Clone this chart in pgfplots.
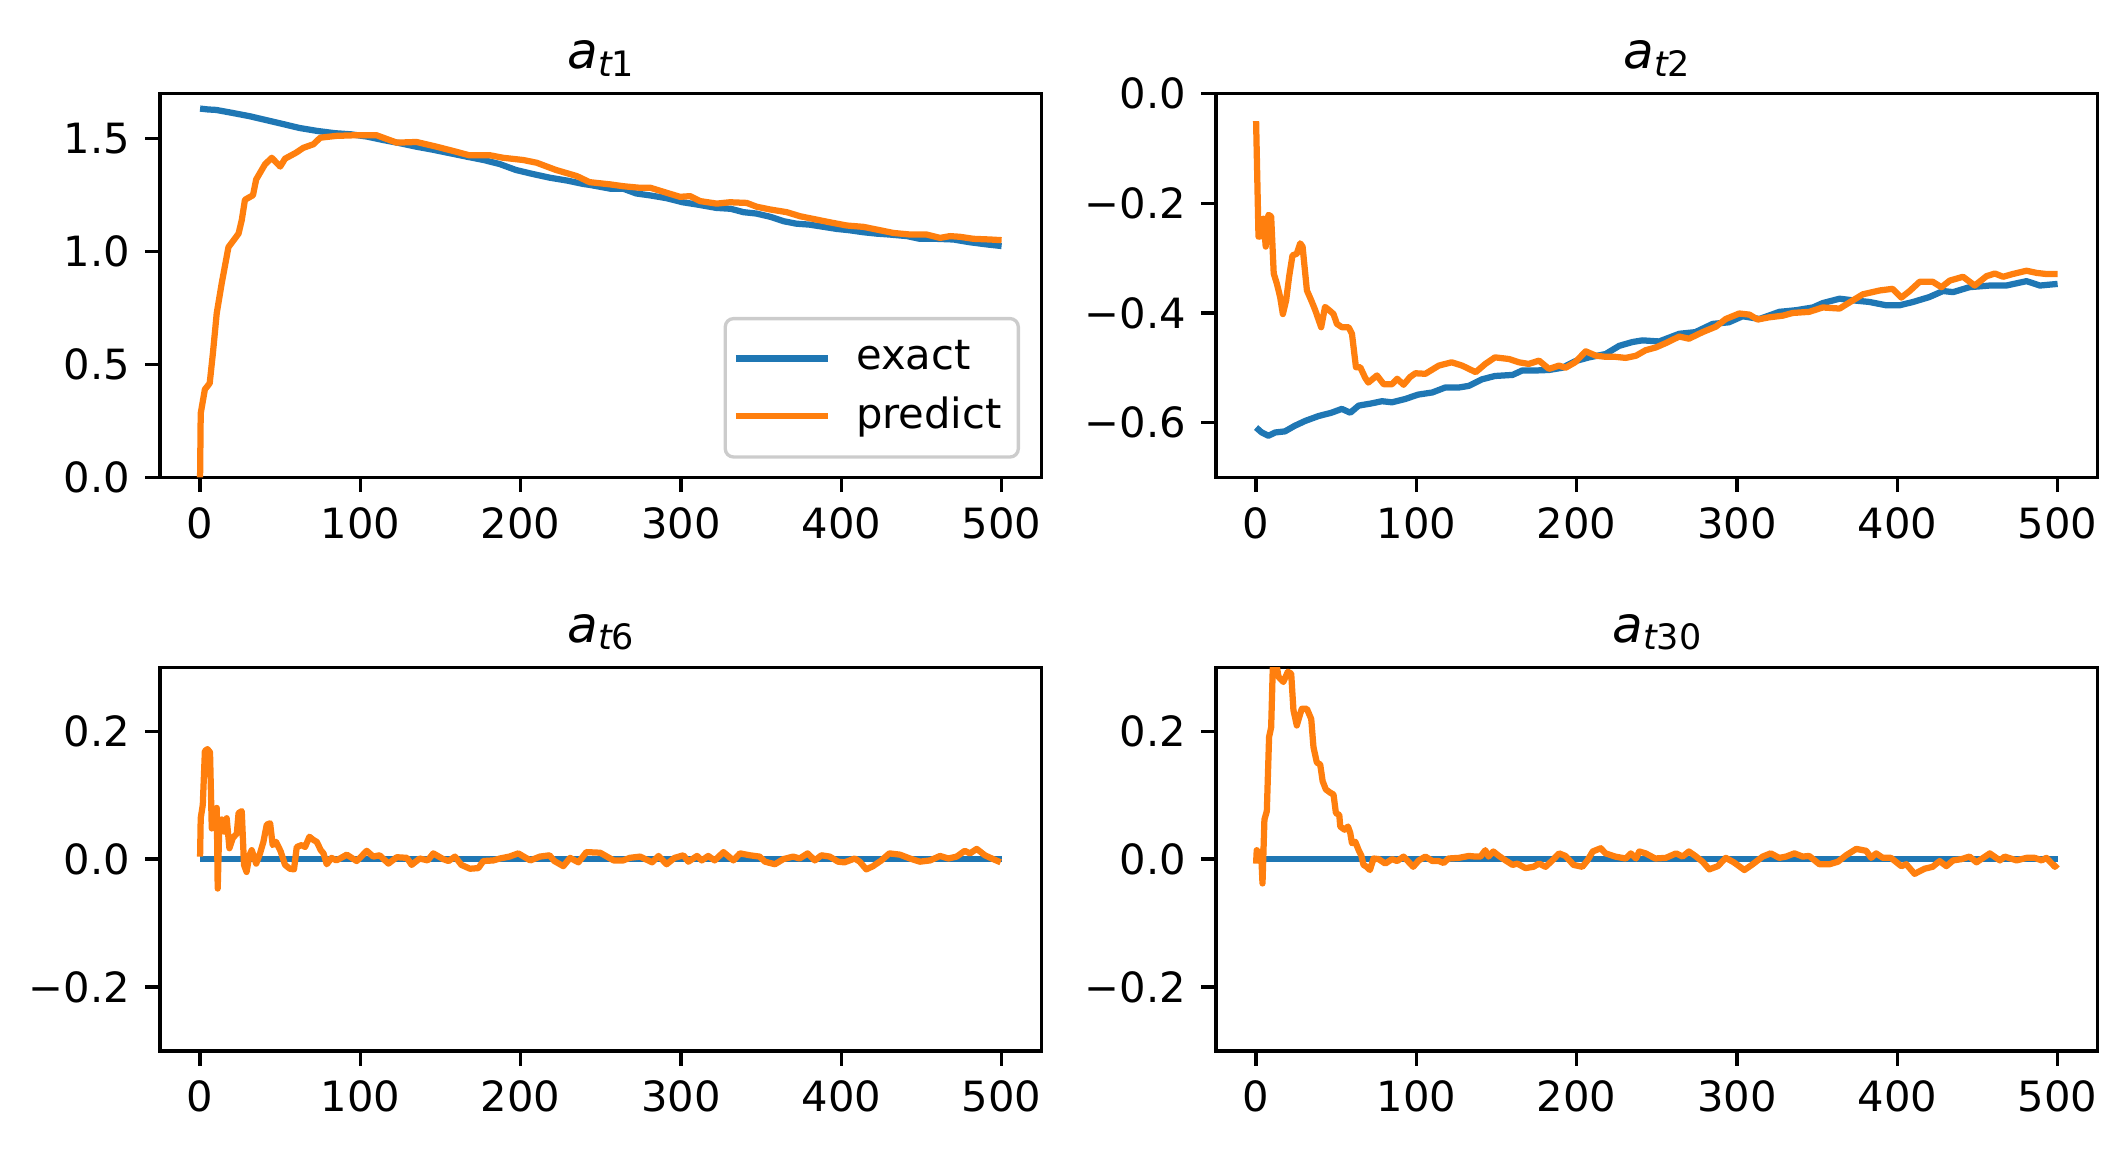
\documentclass[border=0pt]{standalone}
\usepackage{fontspec}
\setmainfont{DejaVu Sans}
\usepackage{pgfplots}
\pgfplotsset{compat=1.18}
\definecolor{tabblue}{HTML}{1F77B4}
\definecolor{taborange}{HTML}{FF7F0E}
\newcommand\ttl[1]{{\fontsize{12}{14}\selectfont\itshape a\raisebox{-1.8pt}{\fontsize{8.4}{10}\selectfont t\upshape #1}}}
\pgfplotsset{
  mystyle/.style={
    scale only axis, width=211.6pt, height=92.1pt,
    anchor=south west,
    xmin=-25, xmax=525,
    xtick={0,100,200,300,400,500},
    xticklabels={0,100,200,300,400,500},
    tick pos=left, tick align=outside,
    major tick length=3.5pt,
    every tick/.style={black, line width=0.8pt},
    axis line style={line width=0.8pt},
    tick label style={font=\fontsize{10}{12}\selectfont},
    xticklabel style={inner sep=0pt, anchor=north, yshift=-3.5pt},
    yticklabel style={inner sep=0pt, anchor=east, xshift=-3.5pt},
    every axis title/.style={at={(0.5,1)}, anchor=base, yshift=6pt, inner sep=0pt},
    every axis plot/.append style={line width=1.5pt, line join=round},
  }
}
\begin{document}
\begin{tikzpicture}
\path[use as bounding box] (0,0) rectangle (510.24pt,276.48pt);
% ---------------- a_t1
\begin{axis}[mystyle, at={(38.4pt,161.9pt)},
  ymin=0, ymax=1.7, ytick={0,0.5,1,1.5}, yticklabels={0.0,0.5,1.0,1.5},
  title={\ttl{1}},
  legend cell align=left,
  legend style={at={(1,0)}, anchor=south east, xshift=-5.2pt, yshift=4.5pt,
    draw=black!20, line width=0.8pt, rounded corners=2pt, fill=white, fill opacity=0.8, text opacity=1,
    font=\fontsize{10}{12}\selectfont, inner xsep=0.5pt, inner ysep=3.3pt, row sep=1pt,
    nodes={inner xsep=3.5pt},
    /tikz/every odd column/.append style={column sep=2.6pt}},
  legend image code/.code={\draw[#1] (0pt,0pt) -- (22pt,0pt); \path (-1.3pt,0pt);}
]
\addplot[tabblue] coordinates {
(0,1.634) (5,1.630) (10,1.628) (20,1.615) (31,1.600) (40,1.585) (52,1.565) (62,1.548)
(73,1.535) (84,1.525) (94,1.520) (104,1.510) (114,1.495) (125,1.480) (135,1.465)
(145,1.452) (156,1.436) (167,1.420) (177,1.406) (187,1.388) (197,1.362) (207,1.345)
(218,1.328) (229,1.315) (239,1.300) (243,1.296) (256,1.279) (264,1.279) (272,1.258)
(281,1.249) (291,1.237) (301,1.219) (310,1.209) (322,1.194) (331,1.190) (339,1.175)
(347,1.169) (356,1.154) (364,1.135) (372,1.124) (380,1.120) (389,1.110) (397,1.101)
(405,1.095) (414,1.086) (422,1.080) (430,1.076) (441,1.069) (449,1.057) (459,1.057)
(470,1.054) (480,1.042) (491,1.032) (500,1.025)
};
\addlegendentry{exact}
\addplot[taborange] coordinates {
(0,0.0) (0.4,0.284) (3,0.39) (6,0.417) (8,0.55) (10.4,0.728) (13.5,0.86) (17.7,1.02)
(24,1.08) (26,1.14) (28,1.23) (33,1.25) (35,1.32) (40.5,1.387) (44.7,1.416) (50,1.377)
(53,1.412) (60,1.439) (64.4,1.46) (70.7,1.476) (75,1.505) (85,1.513) (97.7,1.516)
(110,1.516) (122.7,1.483) (135,1.486) (147.6,1.465) (158,1.446) (168,1.427) (181,1.427)
(189,1.416) (201.7,1.406) (210,1.394) (222,1.362) (235,1.335) (243,1.308) (256,1.298)
(264,1.290) (274.5,1.283) (281,1.283) (291,1.261) (299.4,1.243) (305.7,1.246) (312,1.224)
(322.3,1.213) (330.6,1.219) (341,1.216) (347.3,1.199) (355.6,1.187) (366,1.175)
(374.3,1.157) (384.7,1.142) (393,1.130) (403.4,1.116) (413.8,1.110) (424.2,1.095)
(432.5,1.083) (443,1.076) (453.3,1.076) (461.6,1.061) (467.8,1.069) (474,1.066)
(482.4,1.057) (492.8,1.054) (500,1.051)
};
\addlegendentry{predict}
\end{axis}
% ---------------- a_t2
\begin{axis}[mystyle, at={(291.84pt,161.9pt)},
  ymin=-0.7, ymax=0, ytick={-0.6,-0.4,-0.2,0}, yticklabels={−0.6,−0.4,−0.2,0.0},
  title={\ttl{2}}]
\addplot[tabblue] coordinates {
(0,-0.609) (3.5,-0.618) (7.7,-0.624) (11.9,-0.618) (18,-0.616) (24,-0.606) (30.6,-0.597)
(39,-0.588) (47,-0.582) (53.5,-0.575) (58.75,-0.582) (64,-0.569) (72,-0.565) (78.5,-0.561)
(84.8,-0.563) (93,-0.557) (101,-0.549) (110,-0.545) (118,-0.536) (126.5,-0.536)
(132.7,-0.533) (141,-0.521) (149,-0.515) (160,-0.513) (166,-0.505) (174,-0.505)
(182.7,-0.504) (191,-0.500) (199,-0.488) (207.7,-0.481) (218,-0.475) (226.5,-0.460)
(234.8,-0.453) (241,-0.450) (251.4,-0.452) (264,-0.438) (274,-0.435) (284.8,-0.420)
(295,-0.417) (303.5,-0.406) (314,-0.411) (326.4,-0.398) (336.8,-0.395) (347.3,-0.390)
(353.5,-0.382) (364,-0.374) (372.3,-0.377) (382.7,-0.380) (393,-0.386) (401.4,-0.386)
(409.8,-0.380) (420,-0.371) (428.5,-0.360) (434.8,-0.362) (445,-0.353) (457.7,-0.350)
(468,-0.350) (480.6,-0.342) (489,-0.350) (500,-0.347)
};
\addplot[taborange] coordinates {
(0,-0.050) (1.5,-0.261) (3,-0.260) (4.6,-0.228) (6,-0.279) (7.7,-0.221) (9.4,-0.224)
(11,-0.328) (13,-0.347) (15,-0.371) (16.7,-0.402) (18.75,-0.377) (20.6,-0.334)
(22.7,-0.295) (25.4,-0.292) (27.5,-0.273) (29,-0.279) (31.7,-0.359) (34.4,-0.377)
(36.9,-0.395) (40.6,-0.426) (43,-0.389) (45.6,-0.395) (48.3,-0.402) (50.4,-0.420)
(53.5,-0.426) (57.7,-0.426) (59.8,-0.438) (62.3,-0.499) (65,-0.499) (68,-0.518)
(70,-0.527) (75.4,-0.514) (79.6,-0.530) (84.8,-0.530) (88,-0.520) (92,-0.531)
(96,-0.517) (99.4,-0.510) (105.6,-0.511) (114,-0.496) (122,-0.490) (128.5,-0.496)
(137,-0.508) (143,-0.493) (149,-0.481) (157.7,-0.484) (164,-0.490) (170,-0.493)
(176.5,-0.487) (182.7,-0.502) (189,-0.496) (193,-0.500) (199,-0.490) (205.6,-0.470)
(212,-0.478) (218,-0.480) (224,-0.480) (230.6,-0.482) (237,-0.478) (243,-0.468)
(249.3,-0.463) (255.6,-0.455) (264,-0.443) (270,-0.447) (278.5,-0.435) (286.8,-0.425)
(293,-0.411) (301.4,-0.401) (307.7,-0.403) (312.9,-0.412) (320,-0.408) (328.5,-0.405)
(334.8,-0.400) (345,-0.398) (353.5,-0.390) (364,-0.392) (372.3,-0.377) (378.5,-0.366)
(389,-0.359) (397,-0.356) (402.5,-0.372) (407.7,-0.360) (414,-0.343) (422,-0.343)
(427.5,-0.353) (432.7,-0.341) (441,-0.334) (448.3,-0.350) (455.6,-0.333) (460.8,-0.328)
(466,-0.334) (472,-0.329) (480.6,-0.323) (487,-0.327) (493,-0.329) (500,-0.329)
};
\end{axis}
% ---------------- a_t6
\begin{axis}[mystyle, at={(38.4pt,24.24pt)},
  ymin=-0.3, ymax=0.3, ytick={-0.2,0,0.2}, yticklabels={−0.2,0.0,0.2},
  title={\ttl{6}}]
\addplot[tabblue] coordinates {(0,0) (500,0)};
\addplot[taborange] coordinates {
(0,0.004) (0.4,0.064) (1.7,0.085) (3,0.169) (4.6,0.172) (6.2,0.167) (7.3,0.048)
(8.7,0.075) (10.4,0.080) (11,-0.046) (12,0.054) (13.5,0.062) (15,0.043) (16.6,0.064)
(18.3,0.017) (20.4,0.033) (22.9,0.040) (24,0.072) (26,0.075) (27.4,-0.009) (29,-0.020)
(30.8,0.006) (32.2,0.014) (35,-0.007) (37.4,0.009) (39.5,0.027) (41.6,0.054)
(43.7,0.056) (45.3,0.022) (47.4,0.027) (50.3,0.012) (53,-0.009) (56,-0.015)
(58.6,-0.016) (60.3,0.019) (63.4,0.022) (65.5,0.019) (68.2,0.035) (70.7,0.030)
(72.8,0.027) (75.3,0.014) (77,0.009) (79,-0.008) (82,0.002) (85,-0.002) (89.4,0.004)
(91.5,0.007) (97.7,-0.003) (104,0.013) (108,0.004) (112,0.006) (117.5,-0.007)
(122.7,0.003) (129,0.002) (132,-0.009) (137,0.001) (142,-0.002) (145.5,0.009)
(151.7,0.000) (155,-0.003) (159,0.004) (163,-0.009) (168.4,-0.015) (173.6,-0.014)
(176.7,-0.003) (183,-0.002) (187,0.001) (193,0.004) (198.5,0.009) (206,-0.002)
(212,0.004) (218,0.006) (221,-0.003) (226.6,-0.011) (230.8,0.002) (236,-0.005)
(241,0.011) (249.6,0.010) (258,-0.002) (264,-0.002) (268,0.002) (274.5,0.004)
(282,-0.005) (286,0.005) (291,-0.008) (296,0.002) (301.5,0.006) (304.6,-0.004)
(310,0.005) (313,-0.002) (317,0.005) (321,-0.002) (326.5,0.011) (332.7,-0.002)
(336.8,0.009) (343,0.006) (349,0.004) (352.4,-0.004) (358.6,-0.008) (363.8,0.000)
(370,0.004) (374,0.001) (379,0.009) (383.5,-0.002) (387.6,0.006) (392.8,0.004)
(398,-0.004) (402,-0.005) (408.4,0.001) (411.5,-0.004) (415.6,-0.016) (419.8,-0.011)
(425,-0.002) (430,0.009) (436.6,0.007) (442.8,0.001) (449,-0.004) (455.4,-0.002)
(461.6,0.005) (466.8,0.001) (472,0.004) (477,0.013) (480.3,0.009) (484.5,0.016)
(489.6,0.006) (494.8,0.000) (499.4,-0.005)
};
\end{axis}
% ---------------- a_t30
\begin{axis}[mystyle, at={(291.84pt,24.24pt)},
  ymin=-0.3, ymax=0.3, ytick={-0.2,0,0.2}, yticklabels={−0.2,0.0,0.2},
  title={\ttl{30}}]
\addplot[tabblue] coordinates {(0,0) (500,0)};
\addplot[taborange] coordinates {
(0,-0.007) (0.4,0.014) (1.9,0.001) (3.1,0.012) (4,-0.038) (5.2,0.062) (6.7,0.075)
(8.1,0.191) (9.4,0.206) (10.4,0.298) (11.9,0.315) (13,0.300) (14,0.285) (17,0.277)
(19.8,0.293) (21.9,0.290) (23.3,0.233) (25.4,0.209) (26.9,0.222) (28.5,0.235)
(31.7,0.235) (34.4,0.219) (35.8,0.175) (37.9,0.151) (40,0.148) (41.5,0.122)
(43.5,0.109) (46.2,0.104) (48.3,0.101) (49.8,0.072) (51.9,0.069) (52.5,0.051)
(55.2,0.046) (57.3,0.051) (58.75,0.041) (59.8,0.025) (61.9,0.027) (64,0.014)
(65.6,0.006) (67,-0.009) (69,-0.012) (71,-0.017) (73.3,0.001) (76.5,0.000)
(80.6,-0.007) (84.8,0.000) (88,-0.003) (92,0.004) (95,-0.004) (98,-0.012)
(101.5,-0.002) (105.6,0.004) (110,-0.003) (114,-0.003) (117,-0.006) (120,0.001)
(126.5,0.002) (132.7,0.005) (137,0.004) (140,0.004) (143,0.014) (145,0.004)
(148,0.012) (151.5,0.005) (155.6,-0.002) (160,-0.009) (163,-0.007) (168,-0.014)
(173,-0.012) (176.5,-0.007) (180.6,-0.012) (184.8,-0.002) (189,0.009) (193,0.005)
(198,-0.009) (203.5,-0.012) (206.7,-0.002) (210,0.012) (215,0.017) (218,0.009)
(224,0.004) (230.6,0.001) (233.75,0.009) (237,0.001) (239,0.012) (243,0.009)
(249,0.001) (255.6,0.002) (262,0.009) (266,0.004) (270,0.012) (274,0.005)
(278.5,-0.004) (282.7,-0.016) (288,-0.011) (293,0.002) (298,-0.005) (304.6,-0.017)
(309.8,-0.008) (316,0.004) (321,0.009) (326.4,0.002) (330.6,0.004) (335.8,0.009)
(341,0.004) (345,0.005) (351.4,-0.008) (357.7,-0.008) (363,-0.004) (368,0.006)
(374.4,0.016) (380.6,0.013) (383.7,0.002) (386.8,0.009) (391,0.002) (396,0.002)
(402.5,-0.011) (405.6,-0.008) (410.8,-0.023) (417,-0.015) (422,-0.012) (426.4,-0.003)
(430.6,-0.011) (434.8,-0.002) (440,0.000) (445,0.004) (449.4,-0.005) (457.7,0.009)
(464,-0.002) (467,0.004) (474.4,-0.002) (480.6,0.002) (485.8,0.002) (490,-0.002)
(493,0.002) (498.3,-0.012) (500,-0.008)
};
\end{axis}
\end{tikzpicture}
\end{document}
